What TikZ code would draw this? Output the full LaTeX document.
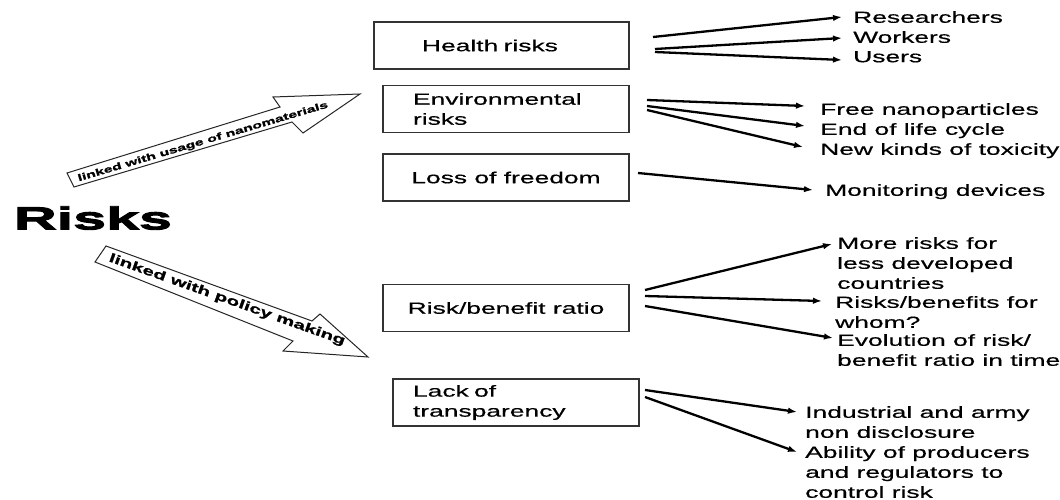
\documentclass[tikz,border=0pt]{standalone}
\usepackage{fontspec}
\setmainfont{Liberation Sans}[FakeStretch=1.65,FakeBold=0.5]
\newfontfamily\riskfont{Liberation Sans}[FakeStretch=1.85,FakeBold=3]
\newfontfamily\tagfont{Liberation Sans}[FakeStretch=1.65,FakeBold=1.5]
\usetikzlibrary{arrows.meta,calc}

\begin{document}
\begin{tikzpicture}[x=1pt,y=-1pt,
    box/.style={draw=black!80,line width=1.1pt,minimum width=246pt,minimum height=47pt,
                font=\fontsize{16}{20}\selectfont},
    item/.style={anchor=north west,inner sep=0pt,align=left,font=\fontsize{16}{20}\selectfont},
    conn/.style={line width=2.3pt,-{Latex[length=9pt,width=6.5pt]}},
    bigarrow/.style={draw=black!85,line width=1pt,fill=white},
    along/.style={inner sep=0pt,font=\tagfont\bfseries\fontsize{#1}{#1}\selectfont}
   ]
\useasboundingbox (0,0) rectangle (1060,500);

% centre
\node[font=\riskfont\bfseries\fontsize{32}{32}\selectfont] (risks) at (93,218) {Risks};

% the two big arrows
\draw[bigarrow] (67,173) -- (280,107) -- (273,97) -- (360,94) -- (303,133) -- (292,122) -- (74,187) -- cycle;
\node[along=9.5,rotate=16.5] (usage) at (203,142) {linked with usage of nanomaterials};
\draw[bigarrow] (106,246) -- (312,321) -- (320,314) -- (368,357) -- (283,351) -- (293,341) -- (95,262) -- cycle;
\node[along=12.5,rotate=-19.6] (policy) at (227,300) {linked with policy making};

% boxes
\node[box,text width=159pt,inner xsep=48pt,align=left] (health) at (501.5,45.5) {Health risks};
\node[box,text width=186pt,inner xsep=30pt,align=left] (envir) at (506,109) {Environmental\\risks};
\node[box] (freedom) at (506,177.5) {Loss of freedom};
\node[box] (ratio) at (506,308) {Risk/benefit ratio};
\node[box,text width=206pt,inner xsep=20pt,align=left] (transp) at (516,402.5) {Lack of\\transparency};

% consequences
\node[item] (res) at (853,11) {Researchers};
\node[item] (wor) at (853,31) {Workers};
\node[item] (use) at (853,51) {Users};
\node[item] (free) at (820,103) {Free nanoparticles};
\node[item] (eol) at (820,123) {End of life cycle};
\node[item] (tox) at (820,143) {New kinds of toxicity};
\node[item] (mon) at (825,184) {Monitoring devices};
\node[item] (more) at (837,237) {More risks for\\less developed\\countries};
\node[item] (whom) at (835,296) {Risks/benefits for\\whom?};
\node[item] (evo) at (837,334) {Evolution of risk/\\benefit ratio in time};
\node[item] (ind) at (805,406) {Industrial and army\\non disclosure};
\node[item] (abil) at (805,446) {Ability of producers\\and regulators to\\control risk};

% start points of the connectors
\coordinate (h1) at (653,37);
\coordinate (h2) at (655,49);
\coordinate (h3) at (655,52);
\coordinate (e1) at (647,100);
\coordinate (e2) at (647,106);
\coordinate (e3) at (647,110);
\coordinate (f1) at (638,173);
\coordinate (r1) at (645,290);
\coordinate (r2) at (645,296);
\coordinate (r3) at (645,306);
\coordinate (t1) at (645,390);
\coordinate (t2) at (645,397);

\draw[conn] (h1) -- ([xshift=-11pt,yshift=-6pt]res.north west);
\draw[conn] (h2) -- ([xshift=-11pt,yshift=-7pt]wor.north west);
\draw[conn] (h3) -- ([xshift=-11pt,yshift=-9pt]use.north west);
\draw[conn] (e1) -- ([xshift=-15pt,yshift=-3pt]free.north west);
\draw[conn] (e2) -- ([xshift=-15pt,yshift=-3pt]eol.north west);
\draw[conn] (e3) -- ([xshift=-17pt,yshift=-4pt]tox.north west);
\draw[conn] (f1) -- ([xshift=-12pt,yshift=-6pt]mon.north west);
\draw[conn] (r1) -- ([xshift=-5pt,yshift=-7pt]more.north west);
\draw[conn] (r2) -- ([xshift=-13pt,yshift=-5pt]whom.north west);
\draw[conn] (r3) -- ([xshift=-4pt,yshift=-4pt]evo.north west);
\draw[conn] (t1) -- ([xshift=-8pt,yshift=-6pt]ind.north west);
\draw[conn] (t2) -- ([xshift=-8pt,yshift=-6pt]abil.north west);
\end{tikzpicture}
\end{document}
